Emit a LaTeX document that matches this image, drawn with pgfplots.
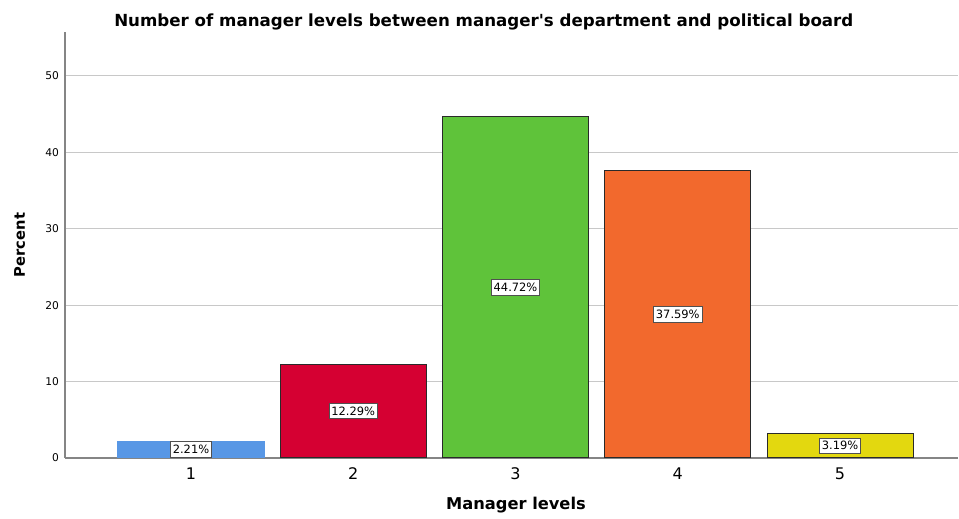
\documentclass[border=0pt]{standalone}
\usepackage{fontspec}
\setmainfont{DejaVu Sans}
\usepackage{pgfplots}
\pgfplotsset{compat=1.18}

\definecolor{barblue}{HTML}{5897E5}
\definecolor{barred}{HTML}{D50032}
\definecolor{bargreen}{HTML}{5FC33A}
\definecolor{barorange}{HTML}{F2692D}
\definecolor{baryellow}{HTML}{E3D80F}
\definecolor{edgegray}{HTML}{2A2A2A}
\definecolor{boxgray}{HTML}{505050}
\definecolor{gridgray}{HTML}{C8C8C8}
\definecolor{axisgray}{HTML}{858585}

\begin{document}
\begin{tikzpicture}
\begin{axis}[
    scale only axis,
    width=669.75pt, height=319.5pt,
    ybar, bar width=0.9, bar shift=0pt,
    xmin=0.2234, xmax=5.727,
    ymin=0, ymax=55.76,
    axis lines*=left,
    axis line style={color=axisgray, line width=0.9pt},
    ytick={0,10,20,30,40,50},
    xtick={1,2,3,4,5},
    major tick length=0pt,
    ymajorgrids,
    grid style={color=gridgray, line width=0.75pt},
    /pgf/number format/assume math mode=true,
    yticklabel style={font=\fontsize{8}{9}\selectfont, xshift=-1pt},
    xticklabel style={font=\fontsize{12}{14}\selectfont, yshift=-3.5pt},
    title={Number of manager levels between manager\textquotesingle s department and political board},
    title style={font=\bfseries\fontsize{12.5}{14}\selectfont, at={(rel axis cs:0.469,1.0129)}, anchor=base, yshift=-6pt},
    xlabel={Manager levels},
    xlabel style={font=\bfseries\fontsize{12.2}{14}\selectfont, at={(rel axis cs:0.505,-0.122)}, anchor=base},
    ylabel={Percent},
    ylabel style={font=\bfseries\fontsize{11}{13}\selectfont, at={(rel axis cs:-0.0448,0.5)}, anchor=base},
    nodes near coords={\pgfmathprintnumber[fixed,fixed zerofill,precision=2]{\pgfplotspointmeta}\%},
    visualization depends on={y \as \rawy},
    every node near coord/.append style={anchor=center, fill=white, draw=boxgray, line width=0.7pt,
        inner xsep=1.8pt, inner ysep=2.6pt, text=black, font=\fontsize{8.6}{10}\selectfont,
        shift={(axis direction cs:0,-\rawy/2)}},
]
\addplot[fill=barblue, draw=barblue, line width=0.75pt] coordinates {(1,2.21)};
\addplot[fill=barred, draw=edgegray, line width=0.75pt] coordinates {(2,12.29)};
\addplot[fill=bargreen, draw=edgegray, line width=0.75pt] coordinates {(3,44.72)};
\addplot[fill=barorange, draw=edgegray, line width=0.75pt] coordinates {(4,37.59)};
\addplot[fill=baryellow, draw=edgegray, line width=0.75pt] coordinates {(5,3.19)};
\end{axis}
\pgfresetboundingbox
\path[use as bounding box] ([shift={(-48.75pt,-45.75pt)}]current axis.south west)
    rectangle ([shift={(0.75pt,24pt)}]current axis.north east);
\end{tikzpicture}
\end{document}
